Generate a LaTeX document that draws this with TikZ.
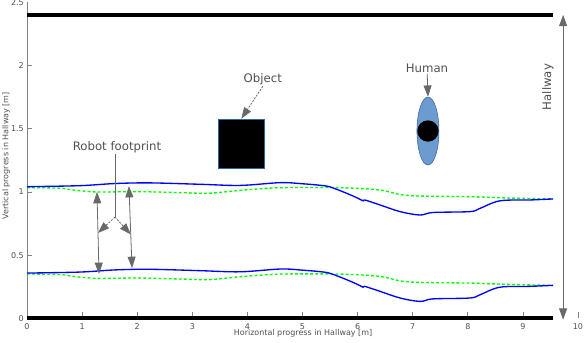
\documentclass[tikz,border=0pt]{standalone}
\usepackage{fontspec}
\setmainfont{DejaVu Sans}
\usepackage{xcolor}
\usepackage{tikz}
\usetikzlibrary{positioning,arrows.meta,shapes.geometric,calc}
\definecolor{humanblue}{RGB}{108,155,208}
\definecolor{humanedge}{RGB}{60,100,160}
\definecolor{objedge}{RGB}{50,100,160}
\definecolor{annot}{RGB}{105,105,105}
\definecolor{txtgray}{RGB}{80,80,80}
\definecolor{axisgray}{RGB}{130,130,130}

\begin{document}
\begin{tikzpicture}[
    x=41.33pt,y=94.875pt,
    font=\fontsize{6}{7}\selectfont,
    wall/.style={line width=3.5pt,black},
    axisline/.style={axisgray,line width=0.6pt},
    tickmark/.style={axisgray,line width=0.5pt},
    ticklbl/.style={text=txtgray,inner sep=1pt},
    lbl/.style={font=\fontsize{8.8}{10}\selectfont,text=txtgray,inner sep=1pt},
    arr/.style={-{Triangle[length=8.5pt,width=6pt]},annot,line width=0.6pt},
    darr/.style={{Triangle[length=8.5pt,width=6pt]}-{Triangle[length=8.5pt,width=6pt]},annot,line width=0.6pt},
    dasharr/.style={arr,dash pattern=on 1.5pt off 1pt},
    traj/.style={blue,line width=1pt},
    refpath/.style={green,line width=1pt,dash pattern=on 2.2pt off 1.6pt}
  ]
    \useasboundingbox (-0.49,-0.186) rectangle (10.109,2.518);

    \draw[axisline] (0,0) -- (0,2.5);
    \foreach \y in {0.5,1,1.5,2} \draw[tickmark] (0,\y) -- ++(0.09,0);
    \foreach \y [count=\i] in {0,0.5,1,1.5,2,2.5} \node[ticklbl,anchor=east] (ytick\i) at (-0.03,\y) {\y};
    \foreach \x in {1,...,10} \draw[tickmark] (\x,0.005) -- ++(0,0.05);
    \foreach \x in {0,...,10} \node[ticklbl] (xtick\x) at (\x,-0.067) {\x};
    \node[ticklbl] (xlab) at (5.01,-0.119) {Horizontal progress in Hallway [m]};
    \node[ticklbl,rotate=90] (ylab) at (-0.38,1.285) {Vertical progress in Hallway [m]};

    \draw[wall] (0,2.4) -- (9.55,2.4);
    \draw[wall] (0,0.005) -- (9.55,0.005);

    \coordinate (hwtop) at (9.73,2.4);
    \coordinate (hwbot) at (9.73,-0.01);
    \draw[darr] (hwbot) -- (hwtop);
    \node[lbl,rotate=90] (hallway) at (9.455,1.83) {Hallway};

    \foreach \dy in {0,-0.683}{
      \begin{scope}[shift={(0,\dy)}]
        \draw[refpath] plot[smooth] coordinates {(0,1.035) (0.6,1.03) (0.84,1.016) (1.27,1.0) (2.0,1.003) (2.8,0.995) (3.3,0.99) (3.9,1.014) (4.6,1.034) (5.68,1.034) (6.4,1.016) (6.77,0.98) (7.13,0.968) (8.04,0.963) (8.77,0.952) (9.55,0.945)};
        \draw[traj] plot[smooth,tension=0.55] coordinates {(0,1.042) (0.96,1.05) (1.6,1.067) (2.23,1.072) (3.14,1.061) (3.87,1.052) (4.6,1.074) (5.0,1.065) (5.32,1.053) (5.5,1.04) (5.8,0.99) (6.0,0.952) (6.1,0.93) (6.13,0.937) (6.41,0.897) (6.77,0.845) (7.13,0.818) (7.37,0.838) (8.04,0.845) (8.22,0.87) (8.58,0.93) (9.13,0.937) (9.55,0.945)};
      \end{scope}
    }

    \node[draw=objedge,fill=black,line width=0.5pt,minimum width=33.9pt,minimum height=36.8pt,inner sep=0pt] (object) at (3.89,1.383) {};
    \node[lbl] (objlbl) at (4.28,1.893) {Object};
    \draw[dasharr] (objlbl.south) -- (object.north);

    \node[ellipse,draw=humanedge,fill=humanblue,line width=0.4pt,minimum width=16.5pt,minimum height=51pt,inner sep=0pt] (human) at (7.277,1.482) {};
    \node[circle,fill=black,minimum size=16pt,inner sep=0pt] (head) at (human) {};
    \node[lbl] (humlbl) at (7.26,1.98) {Human};
    \draw[arr] (humlbl) -- (human.north);

    \node[lbl] (footlbl) at (1.633,1.356) {Robot footprint};
    \coordinate (split) at (1.597,0.802);
    \coordinate (lt) at (1.27,1.0);
    \coordinate (lb) at (1.307,0.352);
    \coordinate (rt) at (1.85,1.047);
    \coordinate (rb) at (1.906,0.399);
    \draw[annot,line width=0.6pt] (footlbl.south -| split) -- (split);
    \draw[darr] (lb) -- (lt);
    \draw[darr] (rb) -- (rt);
    \draw[dasharr] (split) -- ($(lt)!0.5!(lb)$);
    \draw[dasharr] (split) -- ($(rt)!0.59!(rb)$);
  \end{tikzpicture}
\end{document}
